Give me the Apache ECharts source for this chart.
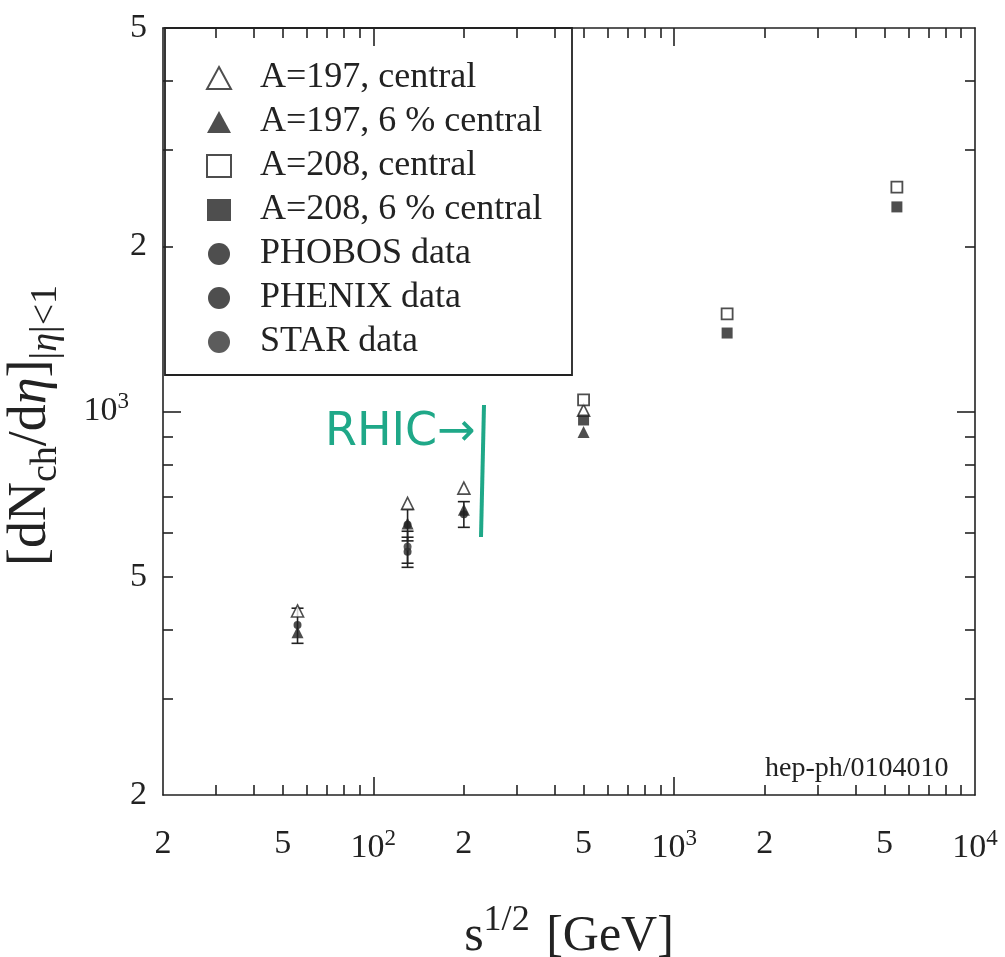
<!DOCTYPE html>
<html>
<head>
<meta charset="utf-8">
<script src="https://cdn.jsdelivr.net/npm/echarts@6/dist/echarts.min.js"></script>
<style>
html,body{margin:0;padding:0;background:#fff;}
#chart{width:1005px;height:957px;}
</style>
</head>
<body>
<div id="chart"></div>
<script>
// ---------------- data ----------------
const a197CentralX = [56, 130, 200, 500];
const a197CentralY = [433, 680, 725, 1005];
const a197SixX = [56, 130, 200, 500];
const a197SixY = [396, 625, 662, 918];
const a208CentralX = [500, 1500, 5500];
const a208CentralY = [1050, 1506, 2565];
const a208SixX = [500, 1500, 5500];
const a208SixY = [965, 1390, 2360];
const phobosX = [56, 130, 200];
const phobosY = [408, 555, 650];
const phobosErr = [30, 35, 35];
const phenixX = [130];
const phenixY = [622];
const phenixErr = [41];
const starX = [130];
const starY = [567];
const starErr = [38];

const xLabelValues = [20, 50, 100, 200, 500, 1000, 2000, 5000, 10000];
const xLabelTexts = ['2', '5', '10^2', '2', '5', '10^3', '2', '5', '10^4'];
const xMinorTicks = [30, 40, 50, 60, 70, 80, 90, 200, 300, 400, 500, 600, 700, 800, 900, 2000, 3000, 4000, 5000, 6000, 7000, 8000, 9000];
const xMajorTicks = [100, 1000];
const yLabelValues = [200, 500, 1000, 2000, 5000];
const yLabelTexts = ['2', '5', '10^3', '2', '5'];
const yMinorTicks = [300, 400, 500, 600, 700, 800, 900, 2000, 3000, 4000];
const yMajorTicks = [1000];

const legendNames = ['A=197, central', 'A=197, 6 % central', 'A=208, central', 'A=208, 6 % central', 'PHOBOS data', 'PHENIX data', 'STAR data'];

// ---------------- helpers ----------------
const SERIF = '"Liberation Serif", "DejaVu Serif", serif';
const INK = '#222';
function zip(xs, ys) { return xs.map((x, i) => [x, ys[i]]); }
function zip3(xs, ys, es) { return xs.map((x, i) => [x, ys[i], es[i]]); }
function richLabel(t, padRight) {
  if (t.indexOf('^') >= 0) {
    const p = t.split('^');
    return '{n|' + p[0] + '}{sup|' + p[1] + '}' + (padRight ? '{gap| }' : '');
  }
  return '{n|' + t + '}';
}
const tickRich = {
  n: { fontFamily: SERIF, fontSize: 34, color: INK },
  sup: { fontFamily: SERIF, fontSize: 23, color: INK, padding: [0, 0, 20, 0] },
  gap: { fontFamily: SERIF, fontSize: 10, width: 18 }
};
function xFmt(v) {
  const i = xLabelValues.findIndex(a => Math.abs(a - v) / a < 1e-6);
  return i >= 0 ? richLabel(xLabelTexts[i], false) : '';
}
function yFmt(v) {
  const i = yLabelValues.findIndex(a => Math.abs(a - v) / a < 1e-6);
  return i >= 0 ? richLabel(yLabelTexts[i], true) : '';
}

function xAxisDef(pos, ticks, len, showLabel, showLine, extra) {
  return Object.assign({
    type: 'log', logBase: 10, min: 20, max: 10000, position: pos,
    axisLine: { show: showLine, lineStyle: { color: INK, width: 1.6 } },
    axisTick: { show: true, inside: true, length: len, customValues: ticks, lineStyle: { color: INK, width: 1.6 } },
    axisLabel: showLabel ? { show: true, customValues: xLabelValues, formatter: xFmt, margin: 32, rich: tickRich } : { show: false },
    splitLine: { show: false }, minorTick: { show: false }
  }, extra || {});
}
function yAxisDef(pos, ticks, len, showLabel, showLine, extra) {
  return Object.assign({
    type: 'log', logBase: 10, min: 200, max: 5000, position: pos,
    axisLine: { show: showLine, lineStyle: { color: INK, width: 1.6 } },
    axisTick: { show: true, inside: true, length: len, customValues: ticks, lineStyle: { color: INK, width: 1.6 } },
    axisLabel: showLabel ? { show: true, customValues: yLabelValues, formatter: yFmt, margin: 16, rich: tickRich } : { show: false },
    splitLine: { show: false }, minorTick: { show: false }
  }, extra || {});
}

const errData = zip3(phobosX, phobosY, phobosErr)
  .concat(zip3(phenixX, phenixY, phenixErr))
  .concat(zip3(starX, starY, starErr));

const chart = echarts.init(document.getElementById('chart'), null, { renderer: 'canvas' });

const option = {
  backgroundColor: '#ffffff',
  animation: false,
  grid: { left: 163, right: 30, top: 28, bottom: 162, containLabel: false, outerBoundsMode: 'none' },
  xAxis: [
    xAxisDef('bottom', xMinorTicks, 10, true, true, {
      name: 's{sup|1/2} [GeV]', nameLocation: 'middle', nameGap: 108,
      nameTextStyle: { fontFamily: SERIF, fontSize: 50, color: INK,
        rich: { sup: { fontFamily: SERIF, fontSize: 36, color: INK, padding: [0, 4, 32, 0] } } }
    }),
    xAxisDef('bottom', xMajorTicks, 18, false, false),
    xAxisDef('top', xMinorTicks, 10, false, true),
    xAxisDef('top', xMajorTicks, 18, false, false)
  ],
  yAxis: [
    yAxisDef('left', yMinorTicks, 10, true, true, {
      name: '[dN{sub|ch}/d{it|η}]{sub2||}{subit|η}{sub2||<1}',
      nameLocation: 'middle', nameGap: 98, nameRotate: 90,
      nameTextStyle: { fontFamily: SERIF, fontSize: 54, color: INK, padding: [0, 28, 0, 0],
        rich: {
          sub: { fontFamily: SERIF, fontSize: 38, color: INK, padding: [31, 0, 0, 0] },
          sub2: { fontFamily: SERIF, fontSize: 38, color: INK, padding: [31, 0, 0, 0] },
          subit: { fontFamily: SERIF, fontSize: 38, fontStyle: 'italic', color: INK, padding: [31, 0, 0, 0] },
          it: { fontFamily: SERIF, fontSize: 54, fontStyle: 'italic', color: INK }
        } }
    }),
    yAxisDef('left', yMajorTicks, 18, false, false),
    yAxisDef('right', yMinorTicks, 10, false, true),
    yAxisDef('right', yMajorTicks, 18, false, false)
  ],
  legend: {
    data: legendNames,
    orient: 'vertical', left: 201, top: 55,
    itemWidth: 24, itemHeight: 22, itemGap: 8,
    textStyle: { fontFamily: SERIF, fontSize: 36, color: INK, lineHeight: 32, padding: [0, 0, 0, 24] },
    selectedMode: false
  },
  series: [
    { name: 'A=197, central', type: 'scatter', symbol: 'triangle', symbolSize: 12,
      itemStyle: { color: '#fff', borderColor: INK, borderWidth: 1.6 }, z: 3,
      data: zip(a197CentralX, a197CentralY) },
    { name: 'A=197, 6 % central', type: 'scatter', symbol: 'triangle', symbolSize: 12,
      itemStyle: { color: INK }, z: 3,
      data: zip(a197SixX, a197SixY) },
    { name: 'A=208, central', type: 'scatter', symbol: 'rect', symbolSize: 11,
      itemStyle: { color: '#fff', borderColor: INK, borderWidth: 1.8 }, z: 3,
      data: zip(a208CentralX, a208CentralY) },
    { name: 'A=208, 6 % central', type: 'scatter', symbol: 'rect', symbolSize: 11,
      itemStyle: { color: INK }, z: 3,
      data: zip(a208SixX, a208SixY) },
    { name: 'PHOBOS data', type: 'scatter', symbol: 'circle', symbolSize: 8,
      itemStyle: { color: INK }, z: 4, data: zip(phobosX, phobosY) },
    { name: 'PHENIX data', type: 'scatter', symbol: 'circle', symbolSize: 8,
      itemStyle: { color: INK }, z: 4, data: zip(phenixX, phenixY) },
    { name: 'STAR data', type: 'scatter', symbol: 'circle', symbolSize: 8,
      itemStyle: { color: '#333' }, z: 4, data: zip(starX, starY) },
    { name: 'errors', type: 'custom', z: 2, silent: true,
      data: errData,
      renderItem: function (params, api) {
        const x = api.value(0), y = api.value(1), e = api.value(2);
        const lo = api.coord([x, y - e]);
        const hi = api.coord([x, y + e]);
        const w = 6;
        const st = { stroke: INK, lineWidth: 1.6 };
        return { type: 'group', children: [
          { type: 'line', shape: { x1: lo[0], y1: lo[1], x2: hi[0], y2: hi[1] }, style: st },
          { type: 'line', shape: { x1: lo[0] - w, y1: lo[1], x2: lo[0] + w, y2: lo[1] }, style: st },
          { type: 'line', shape: { x1: hi[0] - w, y1: hi[1], x2: hi[0] + w, y2: hi[1] }, style: st }
        ] };
      } }
  ],
  graphic: [
    { type: 'rect', shape: { x: 165, y: 28, width: 407, height: 347 },
      style: { fill: 'none', stroke: INK, lineWidth: 1.8 }, z: 10 },
    { type: 'text', left: 765, top: 755,
      style: { text: 'hep-ph/0104010', font: '28px ' + SERIF, fill: INK }, z: 10 },
    { type: 'text', left: 325, top: 410,
      style: { text: 'RHIC→', font: '46px "DejaVu Sans", sans-serif', fill: '#1fa888' }, z: 10 },
    { type: 'line', shape: { x1: 484, y1: 405, x2: 481, y2: 537 },
      style: { stroke: '#1fa888', lineWidth: 4 }, z: 10 }
  ]
};
chart.setOption(option);
</script>
</body>
</html>
